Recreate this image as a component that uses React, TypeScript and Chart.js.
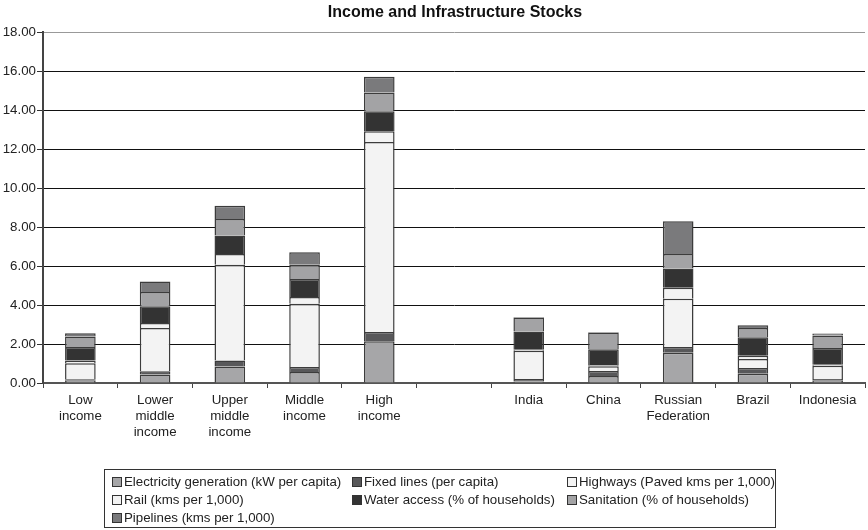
import React, { useEffect, useRef } from "react";
import { Chart, registerables } from "chart.js";
Chart.register(...registerables);

const categories: string[][] = [
  ["Low", "income"],
  ["Lower", "middle", "income"],
  ["Upper", "middle", "income"],
  ["Middle", "income"],
  ["High", "income"],
  [""],
  ["India"],
  ["China"],
  ["Russian", "Federation"],
  ["Brazil"],
  ["Indonesia"],
];

const electricity = [0.12, 0.43, 0.85, 0.56, 2.14, null, 0.08, 0.36, 1.55, 0.48, 0.12];
const fixedLines = [0.07, 0.17, 0.31, 0.26, 0.48, null, 0.12, 0.26, 0.29, 0.29, 0.09];
const highways = [0.82, 2.22, 4.91, 3.25, 9.74, null, 1.45, 0.24, 2.48, 0.46, 0.68];
const rail = [0.14, 0.26, 0.55, 0.34, 0.55, null, 0.05, 0.05, 0.56, 0.17, 0.05];
const water = [0.69, 0.85, 0.94, 0.92, 1.03, null, 0.94, 0.82, 0.99, 0.94, 0.85];
const sanitation = [0.54, 0.74, 0.85, 0.73, 0.96, null, 0.72, 0.86, 0.75, 0.48, 0.65];
const pipelines = [0.17, 0.54, 0.68, 0.65, 0.80, null, 0.02, 0.02, 1.67, 0.14, 0.10];

const seriesNames = [
  "Electricity generation (kW per capita)",
  "Fixed lines (per capita)",
  "Highways (Paved kms per 1,000)",
  "Rail (kms per 1,000)",
  "Water access (% of households)",
  "Sanitation (% of households)",
  "Pipelines (kms per 1,000)",
];
const seriesData = [electricity, fixedLines, highways, rail, water, sanitation, pipelines];
const seriesColors = ["#a6a6a8", "#58585a", "#f3f3f3", "#f3f3f3", "#333333", "#a3a3a5", "#7a7a7c"];

const yTicks = [0, 2, 4, 6, 8, 10, 12, 14, 16, 18];
const titleText = "Income and Infrastructure Stocks";

const FONT = "'Liberation Sans', Arial, sans-serif";

// legend placement (column x, row y)
const legendCols = [7, 247, 462];
const legendRows = [4, 22, 40];

export default function App() {
  const ref = useRef<HTMLCanvasElement>(null);
  useEffect(() => {
    const chart = new Chart(ref.current!, {
      type: "bar",
      data: {
        labels: categories,
        datasets: seriesNames.map((n, i) => ({
          label: n,
          data: seriesData[i] as any,
          backgroundColor: seriesColors[i],
          borderColor: "#3c3c3c",
          borderWidth: 1.5,
          categoryPercentage: 1,
          barPercentage: 0.41,
        })),
      },
      options: {
        responsive: false,
        animation: false,
        layout: { padding: { top: 32, left: 0, right: 3, bottom: 0 } },
        plugins: {
          legend: { display: false },
          title: { display: false },
          tooltip: { enabled: false },
        },
        scales: {
          x: {
            stacked: true,
            offset: true,
            grid: {
              offset: true,
              drawOnChartArea: false,
              drawTicks: true,
              tickLength: 5,
              color: "#444",
            },
            border: { color: "#555", width: 2 },
            ticks: {
              font: { family: FONT, size: 13.3, lineHeight: 1.17 },
              color: "#222",
              padding: 5,
              maxRotation: 0,
              autoSkip: false,
            },
            afterFit: (s: any) => {
              s.height = 147;
            },
          },
          y: {
            stacked: true,
            min: 0,
            max: 18,
            afterBuildTicks: (s: any) => {
              s.ticks = yTicks.map((v) => ({ value: v }));
            },
            ticks: {
              callback: (v: any) => Number(v).toFixed(2),
              font: { family: FONT, size: 13.3 },
              color: "#222",
              padding: 1,
            },
            grid: {
              color: (ctx: any) => (ctx.tick && ctx.tick.value === 18 ? "#999" : "#111"),
              tickLength: 6,
              tickColor: "#333",
            },
            border: { color: "#444", width: 2 },
            afterFit: (s: any) => {
              s.width = 43;
            },
          },
        },
      },
    });
    return () => chart.destroy();
  }, []);

  return (
    <div style={{ position: "absolute", left: 0, top: 0, width: 868, height: 530, background: "#fff", fontFamily: FONT }}>
      <canvas ref={ref} width={868} height={530} style={{ display: "block" }} />
      <div
        style={{
          position: "absolute",
          left: 255,
          width: 400,
          top: 3,
          textAlign: "center",
          fontWeight: "bold",
          fontSize: 16,
          color: "#111",
        }}
      >
        {titleText}
      </div>
      <div
        style={{
          position: "absolute",
          left: 104,
          top: 469,
          width: 672,
          height: 59,
          border: "1px solid #333",
          boxSizing: "border-box",
        }}
      >
        {seriesNames.map((n, i) => (
          <div
            key={n}
            style={{
              position: "absolute",
              left: legendCols[i % 3],
              top: legendRows[Math.floor(i / 3)],
              fontSize: 13.3,
              color: "#222",
              whiteSpace: "nowrap",
              display: "flex",
              alignItems: "center",
              lineHeight: "16px",
            }}
          >
            <span
              style={{
                display: "inline-block",
                width: 8,
                height: 8,
                background: seriesColors[i],
                border: "1px solid #333",
                marginRight: 2,
              }}
            />
            {n}
          </div>
        ))}
      </div>
    </div>
  );
}
